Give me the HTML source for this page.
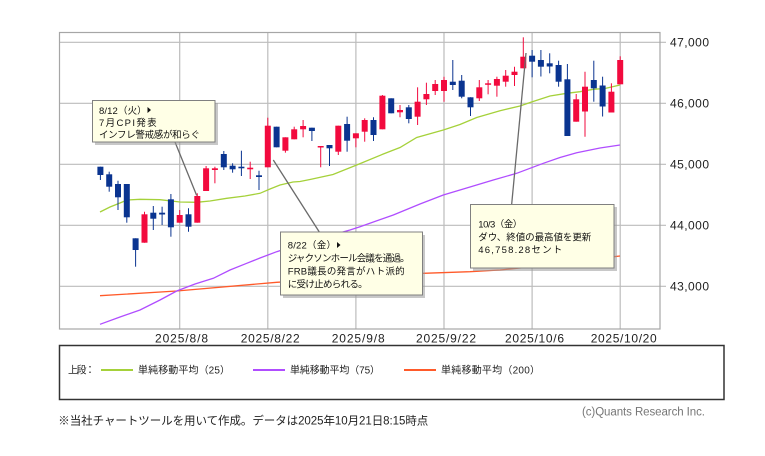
<!DOCTYPE html>
<html><head><meta charset="utf-8"><style>
html,body{margin:0;padding:0;background:#fff;}
svg{display:block;}
text{font-family:"Liberation Sans","Noto Sans CJK JP",sans-serif;}
</style></head><body>
<svg width="765" height="456" viewBox="0 0 765 456" xmlns="http://www.w3.org/2000/svg">
<rect x="0" y="0" width="765" height="456" fill="#fff"/>
<!-- grid -->
<g stroke="#bcbcbc" stroke-width="1.2" fill="none">
<line x1="59" y1="42.3" x2="666" y2="42.3"/>
<line x1="59" y1="103.3" x2="666" y2="103.3"/>
<line x1="59" y1="164.3" x2="666" y2="164.3"/>
<line x1="59" y1="225.3" x2="666" y2="225.3"/>
<line x1="59" y1="286.3" x2="666" y2="286.3"/>
<line x1="179.7" y1="32.5" x2="179.7" y2="329"/>
<line x1="267.8" y1="32.5" x2="267.8" y2="329"/>
<line x1="355.9" y1="32.5" x2="355.9" y2="329"/>
<line x1="444" y1="32.5" x2="444" y2="329"/>
<line x1="532.1" y1="32.5" x2="532.1" y2="329"/>
<line x1="620.2" y1="32.5" x2="620.2" y2="329"/>
</g>
<rect x="59.5" y="32.5" width="600.5" height="296.5" fill="none" stroke="#a6a6a6" stroke-width="1.2"/>
<!-- y labels -->
<g font-size="12" fill="#222">
<text x="670" y="46.3" textLength="39">47,000</text>
<text x="670" y="107.3" textLength="39">46,000</text>
<text x="670" y="168.3" textLength="39">45,000</text>
<text x="670" y="229.3" textLength="39">44,000</text>
<text x="670" y="290.3" textLength="39">43,000</text>
</g>
<!-- x labels -->
<g font-size="12" fill="#222">
<text x="155" y="342.7" textLength="53">2025/8/8</text>
<text x="240.7" y="342.7" textLength="59">2025/8/22</text>
<text x="331.7" y="342.7" textLength="53">2025/9/8</text>
<text x="416" y="342.7" textLength="60">2025/9/22</text>
<text x="505" y="342.7" textLength="59">2025/10/6</text>
<text x="590.7" y="342.7" textLength="66">2025/10/20</text>
</g>
<!-- moving averages -->
<polyline fill="none" stroke="#ff5a2a" stroke-width="1.3" points="100,295.7 176.7,291 276.7,282.3 350,278 423.3,273.3 470,271.7 500,270 560,264 614,256.7 620,256"/>
<polyline fill="none" stroke="#b04dff" stroke-width="1.3" points="100,324.3 120,317 140,310 160,300 176.7,291 195,284 213.3,278.3 230,270 246.7,263.3 260,258 276.7,251.7 300,244 325,237 350,230 360,226.7 393.3,215 420,204 443.3,195 470,187 493.3,180 516.7,173.3 543.3,163.3 560,157.5 576.7,152.7 600,148 620,145"/>
<polyline fill="none" stroke="#a5d13a" stroke-width="1.3" points="100,212 110,207 120,203 127,200 140,199.3 160,199.7 180,202 196.7,202.3 210,201 226.7,198.3 245,196 260,193.3 270,189 280,185 293,182 300,181.5 310,179.5 333,174.5 356.7,165 383.3,154 400,147.5 416.7,137.5 443.3,130 460,124.5 476.7,117.5 500,110.7 520,106 532.3,101.7 550,96 566.7,93.3 580,91.7 593.3,89.3 605,88.5 620,85"/>
<!-- candles: blue -->
<g stroke="#0a3490" stroke-width="1" fill="#0a3490">
<line x1="100.4" y1="166.7" x2="100.4" y2="180"/><rect x="97.4" y="166.7" width="6" height="8.3" stroke="none"/>
<line x1="109.2" y1="171.7" x2="109.2" y2="191.7"/><rect x="106.2" y="174.3" width="6" height="12.4" stroke="none"/>
<line x1="118" y1="180.7" x2="118" y2="210"/><rect x="115" y="184" width="6" height="13.3" stroke="none"/>
<line x1="126.8" y1="184" x2="126.8" y2="222.7"/><rect x="123.8" y="184" width="6" height="33.3" stroke="none"/>
<line x1="135.6" y1="238.3" x2="135.6" y2="266.7"/><rect x="132.6" y="238.3" width="6" height="11.7" stroke="none"/>
<line x1="153.3" y1="206" x2="153.3" y2="230"/><rect x="150.3" y="212.7" width="6" height="6" stroke="none"/>
<line x1="162.1" y1="206.7" x2="162.1" y2="225"/><rect x="159.1" y="212.7" width="6" height="1.8" stroke="none"/>
<line x1="170.9" y1="194" x2="170.9" y2="236.7"/><rect x="167.9" y="199.3" width="6" height="28" stroke="none"/>
<line x1="188.5" y1="208.3" x2="188.5" y2="231.7"/><rect x="185.5" y="214.3" width="6" height="12.4" stroke="none"/>
<line x1="223.8" y1="151" x2="223.8" y2="170"/><rect x="220.8" y="154" width="6" height="13.3" stroke="none"/>
<line x1="232.6" y1="163.3" x2="232.6" y2="172.7"/><rect x="229.6" y="165.7" width="6" height="3.6" stroke="none"/>
<line x1="241.4" y1="150.7" x2="241.4" y2="176"/><rect x="238.4" y="166.7" width="6" height="1.6" stroke="none"/>
<line x1="259" y1="170.7" x2="259" y2="190"/><rect x="256" y="175.3" width="6" height="1.7" stroke="none"/>
<line x1="276.6" y1="126.7" x2="276.6" y2="147.3"/><rect x="273.6" y="126.7" width="6" height="20.6" stroke="none"/>
<line x1="311.9" y1="127.7" x2="311.9" y2="141"/><rect x="308.9" y="127.7" width="6" height="3.3" stroke="none"/>
<line x1="329.5" y1="145" x2="329.5" y2="166"/><rect x="326.5" y="145" width="6" height="3.3" stroke="none"/>
<line x1="347.1" y1="116.7" x2="347.1" y2="151.7"/><rect x="344.1" y="124" width="6" height="16.7" stroke="none"/>
<line x1="373.5" y1="117.3" x2="373.5" y2="141"/><rect x="370.5" y="120" width="6" height="15" stroke="none"/>
<line x1="391.2" y1="98.3" x2="391.2" y2="113.3"/><rect x="388.2" y="98.3" width="6" height="15" stroke="none"/>
<line x1="408.8" y1="105" x2="408.8" y2="123.3"/><rect x="405.8" y="107.3" width="6" height="11.7" stroke="none"/>
<line x1="452.8" y1="60" x2="452.8" y2="90"/><rect x="449.8" y="81.7" width="6" height="3.3" stroke="none"/>
<line x1="461.7" y1="75" x2="461.7" y2="98.3"/><rect x="458.7" y="80.7" width="6" height="16" stroke="none"/>
<line x1="470.5" y1="97.3" x2="470.5" y2="116"/><rect x="467.5" y="97.3" width="6" height="10" stroke="none"/>
<line x1="532.1" y1="50" x2="532.1" y2="77.3"/><rect x="529.1" y="55.7" width="6" height="6" stroke="none"/>
<line x1="540.9" y1="50" x2="540.9" y2="76.5"/><rect x="537.9" y="60" width="6" height="6.7" stroke="none"/>
<line x1="549.7" y1="53.3" x2="549.7" y2="73.3"/><rect x="546.7" y="63.3" width="6" height="3.2" stroke="none"/>
<line x1="558.6" y1="60.7" x2="558.6" y2="86.7"/><rect x="555.6" y="65" width="6" height="16.7" stroke="none"/>
<line x1="567.4" y1="64" x2="567.4" y2="136"/><rect x="564.4" y="79.3" width="6" height="56.7" stroke="none"/>
<line x1="593.8" y1="60.7" x2="593.8" y2="101.7"/><rect x="590.8" y="80" width="6" height="8.3" stroke="none"/>
<line x1="602.6" y1="76.7" x2="602.6" y2="116.5"/><rect x="599.6" y="85.5" width="6" height="21" stroke="none"/>
</g>
<!-- candles: red -->
<g stroke="#f20a3e" stroke-width="1" fill="#f20a3e">
<line x1="144.5" y1="211.7" x2="144.5" y2="242.7"/><rect x="141.5" y="214.3" width="6" height="28.4" stroke="none"/>
<line x1="179.7" y1="210" x2="179.7" y2="222.7"/><rect x="176.7" y="215" width="6" height="7.7" stroke="none"/>
<line x1="197.3" y1="193.3" x2="197.3" y2="222.7"/><rect x="194.3" y="196" width="6" height="26.7" stroke="none"/>
<line x1="206.1" y1="166" x2="206.1" y2="191"/><rect x="203.1" y="168.3" width="6" height="22.7" stroke="none"/>
<line x1="214.9" y1="166.7" x2="214.9" y2="183.3"/><rect x="211.9" y="168.3" width="6" height="1.7" stroke="none"/>
<line x1="250.2" y1="161.7" x2="250.2" y2="179"/><rect x="247.2" y="167.7" width="6" height="1.6" stroke="none"/>
<line x1="267.8" y1="117.7" x2="267.8" y2="167.3"/><rect x="264.8" y="125.7" width="6" height="41.6" stroke="none"/>
<line x1="285.4" y1="137.3" x2="285.4" y2="152.7"/><rect x="282.4" y="137.3" width="6" height="13.4" stroke="none"/>
<line x1="294.2" y1="126.7" x2="294.2" y2="139.3"/><rect x="291.2" y="129.3" width="6" height="10" stroke="none"/>
<line x1="303.1" y1="120" x2="303.1" y2="137.3"/><rect x="300.1" y="126" width="6" height="3.3" stroke="none"/>
<line x1="320.7" y1="146" x2="320.7" y2="167.3"/><rect x="317.7" y="146" width="6" height="1.5" stroke="none"/>
<line x1="338.3" y1="125.7" x2="338.3" y2="155"/><rect x="335.3" y="125.7" width="6" height="26" stroke="none"/>
<line x1="355.9" y1="133.3" x2="355.9" y2="147.3"/><rect x="352.9" y="133.3" width="6" height="5" stroke="none"/>
<line x1="364.7" y1="118.3" x2="364.7" y2="141.7"/><rect x="361.7" y="120" width="6" height="11.7" stroke="none"/>
<line x1="382.4" y1="95" x2="382.4" y2="129.3"/><rect x="379.4" y="95.7" width="6" height="33.6" stroke="none"/>
<line x1="400" y1="105" x2="400" y2="117.3"/><rect x="397" y="110" width="6" height="2.3" stroke="none"/>
<line x1="417.6" y1="87.3" x2="417.6" y2="125"/><rect x="414.6" y="101.7" width="6" height="15" stroke="none"/>
<line x1="426.4" y1="82.7" x2="426.4" y2="105"/><rect x="423.4" y="94" width="6" height="5.3" stroke="none"/>
<line x1="435.2" y1="80" x2="435.2" y2="95"/><rect x="432.2" y="84" width="6" height="7" stroke="none"/>
<line x1="444" y1="76.7" x2="444" y2="101.7"/><rect x="441" y="80" width="6" height="11" stroke="none"/>
<line x1="479.3" y1="80" x2="479.3" y2="101"/><rect x="476.3" y="87.3" width="6" height="11" stroke="none"/>
<line x1="488.1" y1="80" x2="488.1" y2="94.3"/><rect x="485.1" y="83.3" width="6" height="1.5" stroke="none"/>
<line x1="496.9" y1="76.7" x2="496.9" y2="96.7"/><rect x="493.9" y="79" width="6" height="6.7" stroke="none"/>
<line x1="505.7" y1="70" x2="505.7" y2="86.7"/><rect x="502.7" y="75.7" width="6" height="6" stroke="none"/>
<line x1="514.5" y1="66.7" x2="514.5" y2="86"/><rect x="511.5" y="71.7" width="6" height="3.3" stroke="none"/>
<line x1="523.3" y1="37.3" x2="523.3" y2="68.3"/><rect x="520.3" y="56.7" width="6" height="11.6" stroke="none"/>
<line x1="576.2" y1="94" x2="576.2" y2="121.7"/><rect x="573.2" y="99.3" width="6" height="22.4" stroke="none"/>
<line x1="585" y1="71.7" x2="585" y2="136.7"/><rect x="582" y="86.7" width="6" height="24.8" stroke="none"/>
<line x1="611.4" y1="83.3" x2="611.4" y2="112.5"/><rect x="608.4" y="91.7" width="6" height="20.8" stroke="none"/>
<line x1="620.2" y1="56.3" x2="620.2" y2="84.3"/><rect x="617.2" y="60" width="6" height="24.3" stroke="none"/>
</g>
<!-- leader lines -->
<g stroke="#6a6a6a" stroke-width="1.3">
<line x1="175" y1="142" x2="196.7" y2="195.5"/>
<line x1="273.3" y1="160" x2="319.3" y2="232"/>
<line x1="526" y1="53" x2="511.7" y2="204"/>
</g>
<!-- annotation box 1 -->
<rect x="95" y="103" width="123" height="42" fill="#9a9a9a" opacity="0.55"/>
<rect x="92.5" y="100.5" width="122.5" height="41.5" fill="#ffffe6" stroke="#808080" stroke-width="1"/>
<g font-size="9.5" fill="#111">
<text x="99" y="114" textLength="47.7">8/12（火）</text>
<text x="99" y="126" textLength="57.7">7月CPI発表</text>
<text x="99" y="138" textLength="101">インフレ警戒感が和らぐ</text>
</g>
<polygon points="147.5,107 147.5,113 151,110" fill="#111"/>
<!-- annotation box 2 -->
<rect x="283" y="235" width="142" height="63" fill="#9a9a9a" opacity="0.55"/>
<rect x="280.5" y="232" width="142" height="63" fill="#ffffe6" stroke="#808080" stroke-width="1"/>
<g font-size="9.5" fill="#111">
<text x="287.7" y="248.5" textLength="48.3">8/22（金）</text>
<text x="287.7" y="261.5" textLength="122">ジャクソンホール会議を通過。</text>
<text x="287.7" y="274.5" textLength="117">FRB議長の発言がハト派的</text>
<text x="287.7" y="287.5" textLength="80">に受け止められる。</text>
</g>
<polygon points="337,242 337,248 340.5,245" fill="#111"/>
<!-- annotation box 3 -->
<rect x="473" y="207" width="144" height="64" fill="#9a9a9a" opacity="0.55"/>
<rect x="470.5" y="204.5" width="143.5" height="63.5" fill="#ffffe6" stroke="#808080" stroke-width="1"/>
<g font-size="9.5" fill="#111">
<text x="478.3" y="227.5" textLength="44">10/3（金）</text>
<text x="478.3" y="240.5" textLength="113">ダウ、終値の最高値を更新</text>
<text x="478.3" y="253" textLength="84">46,758.28セント</text>
</g>
<!-- legend -->
<rect x="59.5" y="345.5" width="664.5" height="54" fill="#fff" stroke="#333" stroke-width="1.5"/>
<g font-size="10" fill="#222">
<text x="68" y="373.5" textLength="27">上段：</text>
<text x="138" y="373.5" textLength="92">単純移動平均（25）</text>
<text x="290" y="373.5" textLength="90">単純移動平均（75）</text>
<text x="441" y="373.5" textLength="99">単純移動平均（200）</text>
</g>
<line x1="101" y1="370" x2="133" y2="370" stroke="#a5d13a" stroke-width="2"/>
<line x1="253" y1="370" x2="285" y2="370" stroke="#b04dff" stroke-width="2"/>
<line x1="404" y1="370" x2="436" y2="370" stroke="#ff5a2a" stroke-width="2"/>
<!-- footer -->
<text x="582" y="415.5" font-size="11.5" fill="#777" textLength="123">(c)Quants Research Inc.</text>
<text x="58.3" y="424.5" font-size="11.5" fill="#222" textLength="370">※当社チャートツールを用いて作成。データは2025年10月21日8:15時点</text>
</svg>
</body></html>
